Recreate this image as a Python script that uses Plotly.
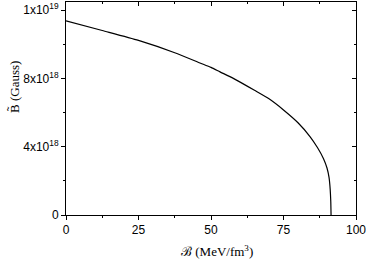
import plotly.graph_objects as go

# bag pressure (MeV/fm^3) vs magnetic field (1e18 Gauss)
bag = [0, 12.5, 25, 37.5, 46.2, 50, 53.1, 57.7, 65, 70, 75, 80, 84.2, 86.7, 88.8, 90.0, 90.7, 91.1, 91.3, 91.4]
field = [11.37, 10.80, 10.22, 9.50, 8.90, 8.64, 8.38, 8.0, 7.30, 6.80, 6.15, 5.40, 4.58, 3.95, 3.30, 2.75, 2.20, 1.50, 0.80, 0.0]
field = [v * 1e18 for v in field]

xticks = [0, 25, 50, 75, 100]
yticks = [0, 4e18, 8e18, 1.2e19]
ytext = ['0', '4x10<sup>18</sup>', '8x10<sup>18</sup>', '1x10<sup>19</sup>']
yminor = [2e18, 6e18, 1e19]

xr = [0, 100]
yr = [0, 1.247e19]

fig = go.Figure()
fig.add_trace(go.Scatter(x=bag, y=field, mode='lines',
                         line=dict(color='black', width=1.2, shape='spline', smoothing=0.6),
                         showlegend=False, hoverinfo='skip'))
# invisible copy on the mirror axes so they get drawn
fig.add_trace(go.Scatter(x=bag, y=field, xaxis='x2', yaxis='y2', mode='lines',
                         line=dict(width=0, color='rgba(0,0,0,0)'),
                         showlegend=False, hoverinfo='skip'))

tickfont = dict(family='Liberation Sans, Arial', size=12, color='black')
common = dict(showline=True, linecolor='black', linewidth=1, showgrid=False,
              zeroline=False, tickcolor='black', ticklen=4, automargin=False,
              ticklabeloverflow='allow')
fig.update_layout(
    width=366, height=263,
    margin=dict(l=66, r=10, t=2, b=48),
    paper_bgcolor='white', plot_bgcolor='white',
    xaxis=dict(range=xr, tickvals=xticks, ticks='outside', tickfont=tickfont,
               minor=dict(dtick=12.5, ticks='outside', ticklen=2, tickcolor='black'), **common),
    yaxis=dict(range=yr, tickvals=yticks, ticktext=ytext, ticks='outside', tickfont=tickfont,
               minor=dict(tickvals=yminor, ticks='outside', ticklen=2, tickcolor='black'), **common),
    xaxis2=dict(range=xr, overlaying='x', side='top', tickvals=xticks, ticks='inside',
                showticklabels=False,
                minor=dict(dtick=12.5, ticks='inside', ticklen=2, tickcolor='black'), **common),
    yaxis2=dict(range=yr, overlaying='y', side='right', tickvals=yticks, ticks='inside',
                showticklabels=False,
                minor=dict(tickvals=yminor, ticks='inside', ticklen=2, tickcolor='black'), **common),
)

fig.add_annotation(text='\u212C (MeV/fm<sup>3</sup>)', xref='paper', yref='paper',
                   x=0.52, y=-0.17, xanchor='center', yanchor='middle', showarrow=False,
                   font=dict(family='Liberation Serif, Times New Roman', size=13, color='black'))
fig.add_annotation(text='B\u0303 (Gauss)', xref='paper', yref='paper',
                   x=-0.18, y=0.6, xanchor='center', yanchor='middle', showarrow=False,
                   textangle=-90,
                   font=dict(family='Liberation Serif, Times New Roman', size=13, color='black'))

fig.write_html('out.html', config={'displayModeBar': False},
               post_script="document.body.style.margin='0';")
